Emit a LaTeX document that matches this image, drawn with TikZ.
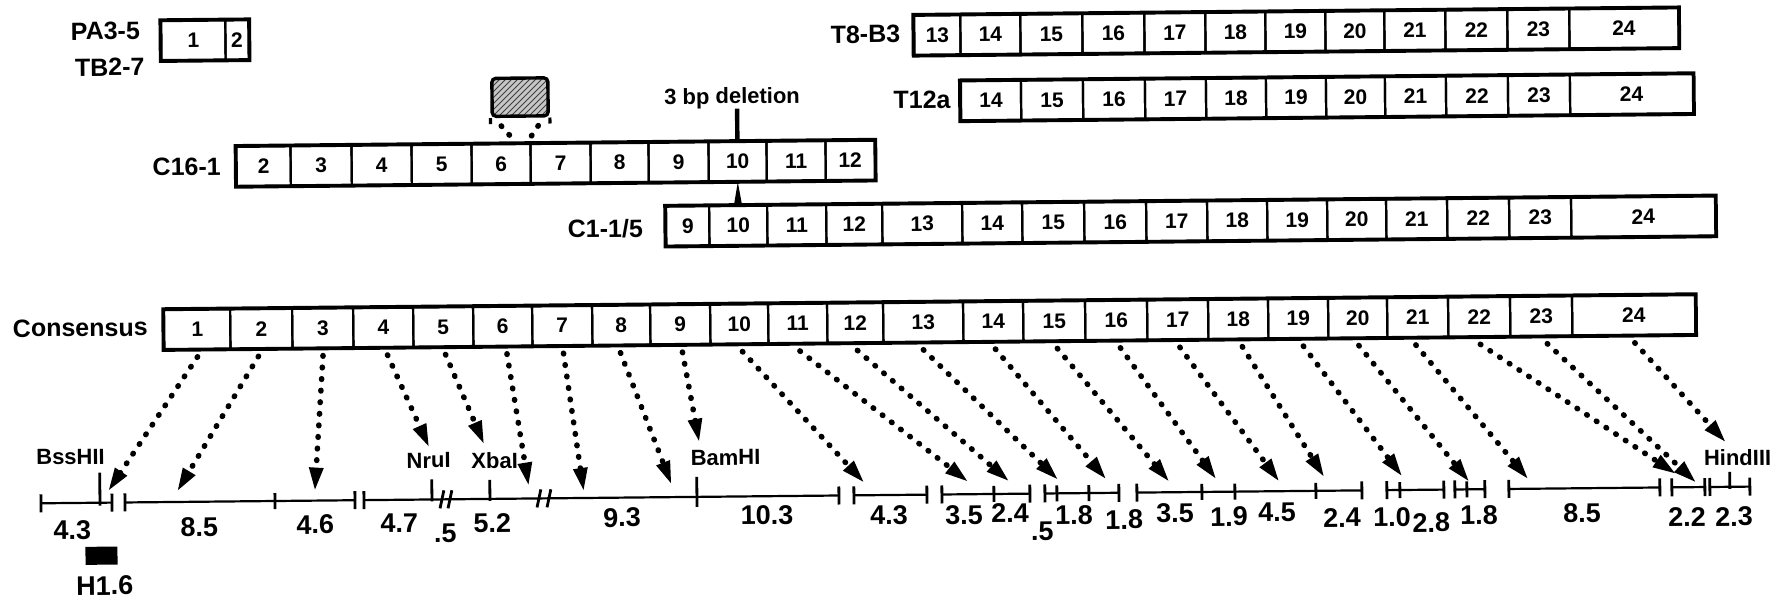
\documentclass[tikz,border=0pt]{standalone}
\usepackage{fontspec}
\setmainfont{Liberation Sans}
\usetikzlibrary{arrows.meta,patterns}
\tikzset{
  cell/.style={draw, line width=1.1pt, inner sep=0pt, font=\bfseries\fontsize{10.5}{12}\selectfont},
  frame/.style={line width=1.7pt, line join=miter},
  rowlabel/.style={inner sep=0pt, font=\bfseries\fontsize{12.5}{14}\selectfont},
  maplabel/.style={inner sep=0pt, font=\bfseries\fontsize{13.5}{15}\selectfont},
  enzyme/.style={inner sep=0pt, font=\bfseries\fontsize{11}{12}\selectfont},
  mapline/.style={line width=1.1pt},
  tickmark/.style={line width=1.4pt},
  dotline/.style={line width=2.8pt, dash pattern=on 0.3pt off 5.5pt, line cap=round},
  dotarrow/.style={dotline, -{Triangle[length=12pt,width=6.5pt]}},
}
\newcommand\exrow[4]{%
  \foreach \a/\b/\t in {#4}{%
    \pgfmathsetmacro\exw{(\b-\a)*0.5}%
    \pgfmathsetmacro\exh{(#3-#2)*0.5}%
    \pgfmathsetmacro\exx{(\a+\b)/2}%
    \pgfmathsetmacro\exy{(#2+#3)/2}%
    \node[cell, minimum width=\exw pt, minimum height=\exh pt] (#1\t) at (\exx,\exy) {\t};
  }%
}
\newcommand\mseg[2]{\draw[mapline] (#1,495) -- (#2,495); \draw[tickmark] (#1,486) -- (#1,504) (#2,486) -- (#2,504);}
\newcommand\mtick[1]{\draw[tickmark] (#1,487) -- (#1,503);}
\newcommand\mbreak[1]{\draw[tickmark] (#1-2,504) -- (#1+2,486);}
\begin{document}
\begin{tikzpicture}[x=0.5pt,y=-0.5pt]
\fill[white] (0,0) rectangle (1780,603);
\useasboundingbox (0,0) rectangle (1780,603);
\begin{scope}[rotate around={0.56:(890,300)}, every node/.append style={transform shape}]

% ---- row labels
\node[rowlabel] (lpa) at (108,23.5) {PA3-5};
\node[rowlabel] (ltb) at (112,59.5) {TB2-7};
\node[rowlabel] (ltb83) at (868,34) {T8-B3};
\node[rowlabel] (lt12) at (924,100) {T12a};
\node[rowlabel] (lc16) at (188,160) {C16-1};
\node[rowlabel] (lc1) at (606,226) {C1-1/5};
\node[rowlabel] (lcons) at (80,320) {Consensus};

% ---- exon rows
\exrow{pa}{14}{53}{164/228/1,228/251/2}
\draw[frame] (pa1.north west) -- (pa2.north east) -- (pa2.south east) -- (pa1.south west) -- cycle;

\exrow{tb}{16}{55}{917/963/13,963/1023/14,1023/1085/15,1085/1147/16,1147/1208/17,1208/1268/18,1268/1328/19,1328/1387/20,1387/1448/21,1448/1510/22,1510/1572/23,1572/1681/24}
\draw[frame] (tb13.north west) -- (tb24.north east) -- (tb24.south east) -- (tb13.south west) -- cycle;

\exrow{tc}{82}{121}{963/1023/14,1023/1085/15,1085/1147/16,1147/1208/17,1208/1268/18,1268/1328/19,1328/1387/20,1387/1448/21,1448/1510/22,1510/1572/23,1572/1695/24}
\draw[frame] (tc14.north west) -- (tc24.north east) -- (tc24.south east) -- (tc14.south west) -- cycle;

\exrow{cd}{140.5}{179.5}{238/292/2,292/353/3,353/413/4,413/473/5,473/532/6,532/592/7,592/650/8,650/710/9,710/768/10,768/827/11,827/876/12}
\draw[frame] (cd2.north west) -- (cd12.north east) -- (cd12.south east) -- (cd2.south west) -- cycle;

\exrow{ce}{204.5}{243.5}{667/710/9,710/768/10,768/827/11,827/883/12,883/963/13,963/1023/14,1023/1085/15,1085/1147/16,1147/1208/17,1208/1268/18,1268/1328/19,1328/1387/20,1387/1448/21,1448/1510/22,1510/1572/23,1572/1716/24}
\draw[frame] (ce9.north west) -- (ce24.north east) -- (ce24.south east) -- (ce9.south west) -- cycle;

\exrow{cons}{303}{342}{164/230/1,230/292/2,292/353/3,353/413/4,413/473/5,473/532/6,532/592/7,592/650/8,650/710/9,710/768/10,768/827/11,827/883/12,883/963/13,963/1023/14,1023/1085/15,1085/1147/16,1147/1208/17,1208/1268/18,1268/1328/19,1328/1387/20,1387/1448/21,1448/1510/22,1510/1572/23,1572/1695/24}
\draw[frame] (cons1.north west) -- (cons24.north east) -- (cons24.south east) -- (cons1.south west) -- cycle;

% ---- insertion box
\node[draw, line width=1.7pt, rounded corners=2pt, inner sep=0pt, minimum width=28pt, minimum height=19pt,
      preaction={fill=gray!45}, pattern=north east lines, pattern color=black!75] (ins) at (522,93.5) {};
\draw[line width=1.6pt] (ins.south west) -- ++(0,6);
\draw[line width=1.6pt] (ins.south east) -- ++(0,6);
\coordinate (v1) at (516,137);
\coordinate (v2) at (530,137);
\draw[dotline] ([shift={(-19,8)}]ins.south) -- (v1);
\draw[dotline] ([shift={(18,8)}]ins.south) -- (v2);

% ---- 3 bp deletion
\node[enzyme] (del) at (734,96.5) {3 bp deletion};
\draw[line width=2.2pt] (del.south -| cd10.north) -- (cd10.north);
\fill (cd10.south) -- ([xshift=-2pt]ce10.north) -- ([xshift=2pt]ce10.north) -- cycle;

% ---- arrows from consensus exons to the map
\foreach \i/\dx/\tx/\ty in {1/0/106/484,2/-3/175/485,3/0/313/486,4/4/428/443.5,5/2/483/441,6/4/527/483,7/1/582/489,8/-1/670/483,9/2/698/441,10/3/863/483,11/2/967/483,12/2/1008/483,13/0/1057/482,14/2/1105/482,15/3/1168/485,16/4/1215/483,17/2/1278/486,18/4/1323/482,19/5/1401/482,20/1/1468/488,21/-2/1527/486,22/1/1675/482,23/6/1695/491,24/1/1725/451}{
  \coordinate (tip\i) at (\tx,\ty);
  \draw[dotarrow] ([shift={(\dx,7)}]cons\i.south) -- (tip\i);
}

% ---- restriction map
\mseg{39}{110}
\mseg{123}{353} \mtick{273}
\mseg{362}{837} \mbreak{440} \mbreak{448} \mbreak{537} \mbreak{547}
\mseg{852}{925}
\mseg{940}{1028} \mtick{992}
\mseg{1043}{1117} \mtick{1055} \mtick{1087}
\mseg{1135}{1360} \mtick{1200} \mtick{1233} \mtick{1314}
\mseg{1385}{1442} \mtick{1398}
\mseg{1453}{1483} \mtick{1465}
\mseg{1507}{1658}
\mseg{1670}{1703}
\mseg{1708}{1748}

% restriction sites
\draw[tickmark] (98,465) -- (98,498);
\draw[tickmark] (430,475) -- (430,497);
\draw[tickmark] (488,476) -- (488,497);
\draw[tickmark] (695,475) -- (695,505);
\draw[tickmark] (1728,480) -- (1728,497);
\node[enzyme] (bss) at (69,449) {BssHII};
\node[enzyme] (nru) at (427,456) {NruI};
\node[enzyme] (xba) at (493,457) {XbaI};
\node[enzyme] (bam) at (724,456) {BamHI};
\node[enzyme] (hind) at (1736,466) {HindIII};

% fragment sizes
\foreach \x/\y/\t in {70/522/4.3,197/520/8.5,313/519/4.6,397/518/4.7,443/529/.5,490/519/5.2,620/515/9.3,765/514/10.3,887/515/4.3,962/516/3.5,1008/514/2.4,1040/533/.5,1072/517/1.8,1122/522/1.8,1173/516/3.5,1227/520/1.9,1275/516/4.5,1340/522/2.4,1390/522/1.0,1429/528/2.8,1477/521/1.8,1580/520/8.5,1685/525/2.2,1732/525/2.3}{
  \node[maplabel] (ml\x) at (\x,\y) {\t};
}

% H1.6 probe
\node[fill=black, inner sep=0pt, minimum width=16pt, minimum height=9pt] (hbox) at (99,548) {};
\node[maplabel] (hlab) at (102,578) {H1.6};
\end{scope}
\end{tikzpicture}
\end{document}
